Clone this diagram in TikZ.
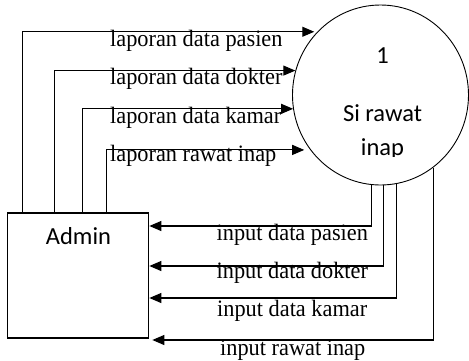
\documentclass[tikz,border=0pt]{standalone}
\usepackage{fontspec}
\usepackage{graphicx}
\setmainfont{Liberation Serif}
\newfontfamily\procfont{Carlito}
\usetikzlibrary{arrows.meta,shapes.geometric}
\newcommand\squeezed[1]{\scalebox{0.95}[1]{#1}}

\begin{document}
\begin{tikzpicture}[x=1pt,y=-1pt,
  flow/.style={line width=1.1pt,-{Triangle[length=12pt,width=10pt]}},
  lbl/.style={anchor=base west,inner sep=0pt,font=\fontsize{23.5}{28}\selectfont},
  ptxt/.style={anchor=base,inner sep=0pt,font=\procfont\fontsize{24.5}{29}\selectfont}]
\useasboundingbox (0,0) rectangle (469,360);

% external entity and process
\node[draw,line width=1.2pt,minimum width=141.5pt,minimum height=125pt,inner sep=0pt] (admin) at (78,275.5) {};
\node[ptxt] (admintxt) at (78.5,244) {Admin};
\node[ellipse,draw,line width=0.9pt,minimum width=176pt,minimum height=180pt,inner sep=0pt] (proc) at (380.5,95) {};
\node[ptxt] (pnum) at (382.5,63) {1};
\node[ptxt] (pname1) at (382.5,121) {Si rawat};
\begin{scope}
  \clip (330,130) rectangle (440,156);
  \node[ptxt] (pname2) at (382.5,155.5) {inap};
\end{scope}

% reports: Admin -> process
\draw[flow,shorten >=3pt] ([xshift=16pt]admin.north west) |- (proc.135.8);
\draw[flow] ([xshift=48pt]admin.north west) |- (proc.164.9);
\draw[flow] ([xshift=76pt]admin.north west) |- (proc.189.2);
\draw[flow,shorten >=6pt] ([xshift=100pt]admin.north west) |- (proc.218.3);

% inputs: process -> Admin
\draw[flow] (proc.264.9) |- (admin.east |- 0,226);
\draw[flow] (proc.272.5) |- (admin.east |- 0,266);
\draw[flow] (proc.280.2) |- (admin.east |- 0,298);
\draw[flow,shorten >=3pt] (proc.306) |- (admin.east |- 0,340);

% flow labels
\node[lbl] (l1) at (110,46) {\squeezed{laporan data pasien}};
\node[lbl] (l2) at (110,84.5) {\squeezed{laporan data dokter}};
\node[lbl] (l3) at (110,123) {\squeezed{laporan data kamar}};
\node[lbl] (l4) at (110,161) {\squeezed{laporan rawat inap}};
\node[lbl] (i1) at (216.5,240) {\squeezed{input data pasien}};
\node[lbl] (i2) at (216.5,278) {\squeezed{input data dokter}};
\node[lbl] (i3) at (217,316.5) {\squeezed{input data kamar}};
\node[lbl] (i4) at (220,355) {\squeezed{input rawat inap}};
\end{tikzpicture}
\end{document}
